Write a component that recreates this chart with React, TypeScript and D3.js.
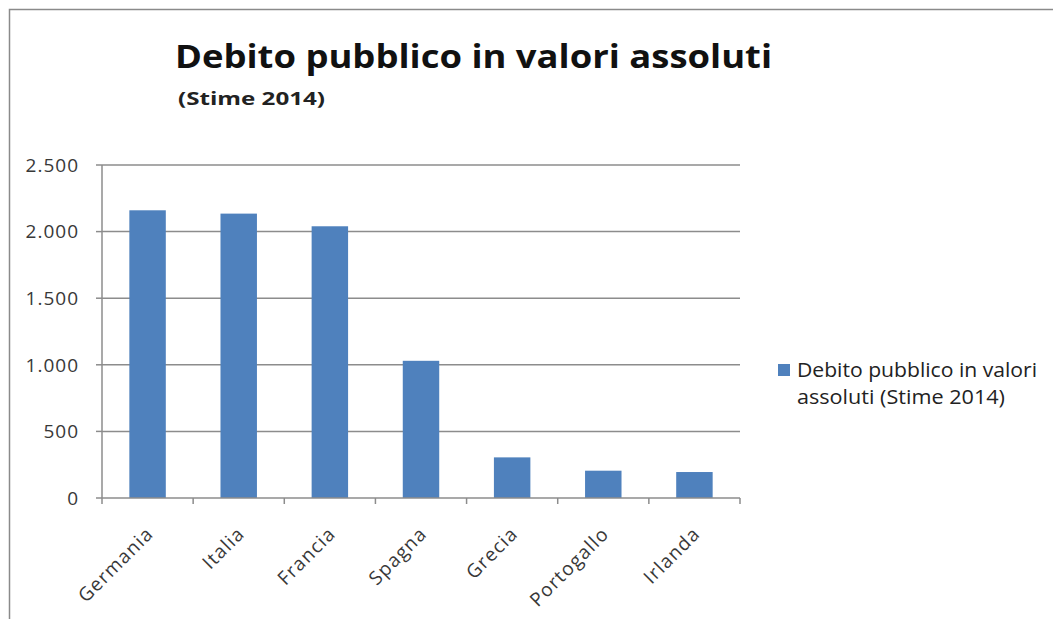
import React, { useEffect, useRef } from "react";
import * as d3 from "d3";

const categories = ["Germania", "Italia", "Francia", "Spagna", "Grecia", "Portogallo", "Irlanda"];
const values = [2160, 2135, 2040, 1030, 305, 205, 195];
const yTicks = [0, 500, 1000, 1500, 2000, 2500];
const title = "Debito pubblico in valori assoluti";
const subtitle = "(Stime 2014)";
const legendLines = ["Debito pubblico in valori", "assoluti (Stime  2014)"];

const W = 1053;
const H = 619;
const FONT = "'Open Sans', 'Noto Sans', sans-serif";

export default function App() {
  const ref = useRef<SVGSVGElement>(null);
  useEffect(() => {
    const svg = d3.select(ref.current);
    svg.selectAll("*").remove();
    svg.append("rect").attr("width", W).attr("height", H).attr("fill", "#fff");
    // frame
    svg.append("path").attr("d", `M9.5,${H} V9.5 H${W}`).attr("fill", "none").attr("stroke", "#8a8a8a").attr("stroke-width", 1.5);

    const x0 = 102, x1 = 740, yTop = 165, yBot = 498;
    const x = d3.scaleBand<string>().domain(categories).range([x0, x1]).paddingInner(0.6).paddingOuter(0.3);
    const xb = d3.scaleBand<string>().domain(categories).range([x0, x1]);
    const y = d3.scaleLinear().domain([0, 2500]).range([yBot, yTop]);
    const fmt = (v: number) => d3.format(",")(v).replace(/,/g, ".");

    // gridlines
    svg.append("g").selectAll("line").data(yTicks.filter(t => t > 0)).join("line")
      .attr("x1", x0).attr("x2", x1).attr("y1", d => y(d)).attr("y2", d => y(d))
      .attr("stroke", "#8c8c8c").attr("stroke-width", 1.5);
    // y axis
    svg.append("line").attr("x1", x0).attr("x2", x0).attr("y1", yTop).attr("y2", yBot).attr("stroke", "#8c8c8c").attr("stroke-width", 1.5);
    svg.append("g").selectAll("line").data(yTicks).join("line")
      .attr("x1", x0 - 6).attr("x2", x0).attr("y1", d => y(d)).attr("y2", d => y(d))
      .attr("stroke", "#8c8c8c").attr("stroke-width", 1.5);
    svg.append("g").selectAll("text").data(yTicks).join("text")
      .attr("x", 79).attr("y", d => y(d)).attr("dy", "0.36em").attr("text-anchor", "end")
      .attr("letter-spacing", 1)
      .attr("font-family", FONT).attr("font-size", 19).attr("fill", "#383838").text(d => fmt(d));

    // bars
    svg.append("g").selectAll("rect").data(categories).join("rect")
      .attr("x", d => x(d)!).attr("width", x.bandwidth())
      .attr("y", (d, i) => y(values[i])).attr("height", (d, i) => yBot - y(values[i]))
      .attr("fill", "#4F81BD");

    // x axis
    svg.append("line").attr("x1", x0).attr("x2", x1).attr("y1", yBot).attr("y2", yBot).attr("stroke", "#8c8c8c").attr("stroke-width", 1.5);
    const bounds = [...categories.map(c => xb(c)!), x1];
    svg.append("g").selectAll("line").data(bounds).join("line")
      .attr("x1", d => d).attr("x2", d => d).attr("y1", yBot).attr("y2", yBot + 6)
      .attr("stroke", "#8c8c8c").attr("stroke-width", 1.5);
    svg.append("g").selectAll("text").data(categories).join("text")
      .attr("transform", d => `translate(${xb(d)! + xb.bandwidth() / 2 + 7},${yBot + 37}) rotate(-45)`)
      .attr("text-anchor", "end").attr("letter-spacing", 1.2)
      .attr("font-family", FONT).attr("font-size", 19).attr("fill", "#383838").text(d => d);

    // titles
    svg.append("text").attr("x", 175).attr("y", 68).attr("font-family", FONT).attr("font-weight", 700)
      .attr("font-size", 33).attr("fill", "#111").attr("textLength", 597).attr("lengthAdjust", "spacingAndGlyphs").text(title);
    svg.append("text").attr("x", 178).attr("y", 105).attr("font-family", FONT).attr("font-weight", 700)
      .attr("font-size", 18).attr("fill", "#222").attr("textLength", 147).attr("lengthAdjust", "spacingAndGlyphs").text(subtitle);

    // legend
    svg.append("rect").attr("x", 778).attr("y", 364).attr("width", 12).attr("height", 12).attr("fill", "#4F81BD");
    const legLens = [240, 208];
    svg.append("g").selectAll("text").data(legendLines).join("text")
      .attr("x", 797).attr("y", (d, i) => 377 + i * 27)
      .attr("textLength", (d, i) => legLens[i]).attr("lengthAdjust", "spacingAndGlyphs")
      .attr("font-family", FONT).attr("font-size", 19.5).attr("fill", "#222").text(d => d);
  }, []);
  return <svg ref={ref} width={W} height={H} style={{ position: "absolute", left: 0, top: 0, display: "block" }} />;
}
